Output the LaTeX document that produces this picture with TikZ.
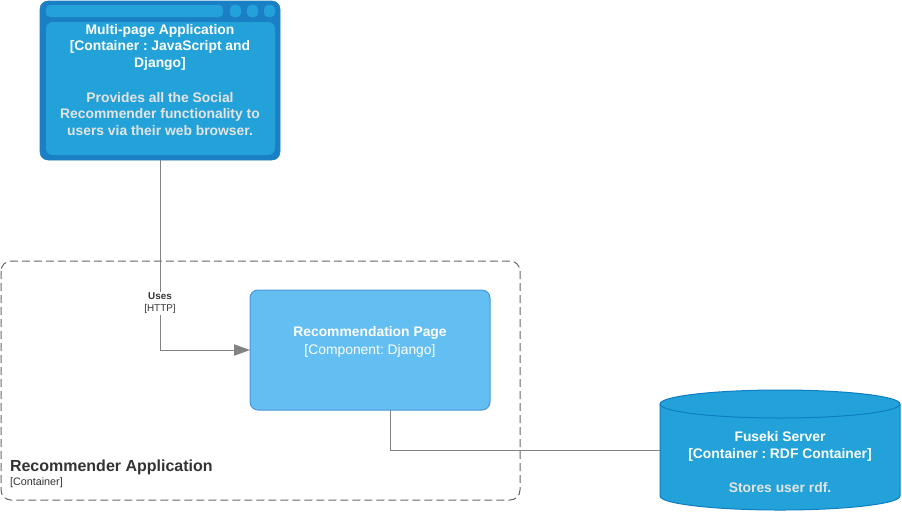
\documentclass[tikz,border=0pt]{standalone}
\usepackage{fontspec}
\setmainfont{Liberation Sans}
\usetikzlibrary{arrows.meta}
\frenchspacing
\definecolor{outerblue}{HTML}{1A7FC4}
\definecolor{innerblue}{HTML}{23A2D9}
\definecolor{compfill}{HTML}{63BEF2}
\definecolor{compline}{HTML}{4A95D6}
\definecolor{cylline}{HTML}{0E7DC2}
\definecolor{desc}{HTML}{E4E4E4}
\definecolor{conn}{HTML}{828282}
\definecolor{bound}{HTML}{666666}
\definecolor{labeltxt}{HTML}{333333}
\tikzset{
  every node/.style={inner sep=0pt, outer sep=0pt},
  ttl/.style={font=\bfseries\fontsize{10.4}{12.4}\selectfont, text=white, align=center},
  dsc/.style={font=\bfseries\fontsize{10.4}{12.4}\selectfont, text=desc, align=center},
  conline/.style={draw=conn, line width=0.75pt},
}
\begin{document}
\begin{tikzpicture}[x=0.75pt,y=-0.75pt]
\useasboundingbox (0,0) rectangle (902,512);
% boundary
\draw[bound, line width=0.75pt, dash pattern=on 6pt off 3pt, rounded corners=7.5pt] (1,261) rectangle (520,500);
\node[anchor=west, font=\bfseries\fontsize{12}{14}\selectfont, text=labeltxt] (blabel) at (10,467) {Recommender Application};
\node[anchor=west, font=\fontsize{8.1}{9}\selectfont, text=labeltxt] (bsub) at (10,483) {[Container]};
% multi-page app
\draw[outerblue, fill=outerblue, rounded corners=6pt] (40,1) rectangle (280,160);
\node[minimum width=180pt, minimum height=119.25pt] (mpa) at (160,80.5) {};
\fill[innerblue, rounded corners=3pt] (46,5) rectangle (223,17);
\fill[innerblue, rounded corners=3pt] (230,5) rectangle (241,17);
\fill[innerblue, rounded corners=3pt] (247,5) rectangle (258,17);
\fill[innerblue, rounded corners=3pt] (264,5) rectangle (275,17);
\fill[innerblue, rounded corners=5pt] (46,22) rectangle (275,155);
\node[ttl] (mpat) at (160,47) {Multi-page Application\\{}[Container : JavaScript and\\Django]};
\node[dsc] (mpad) at (160,114) {Provides all the Social\\Recommender functionality to\\users via their web browser.};
% component
\node[draw=compline, fill=compfill, line width=0.75pt, rounded corners=6pt, minimum width=180pt, minimum height=90pt] (rp) at (370,350) {};
\node[ttl] (rpt) at (370,333) {Recommendation Page};
\node[font=\fontsize{10.4}{12.4}\selectfont, text=white] (rps) at (370,351) {[Component: Django]};
% cylinder
\node[minimum width=180pt, minimum height=90pt] (fs) at (780,450) {};
\filldraw[fill=innerblue, draw=cylline, line width=0.75pt]
  (660,404) -- (660,496)
  .. controls (660,503.73) and (713.7,510) .. (780,510)
  .. controls (846.3,510) and (900,503.73) .. (900,496)
  -- (900,404)
  .. controls (900,396.27) and (846.3,390) .. (780,390)
  .. controls (713.7,390) and (660,396.27) .. (660,404) -- cycle;
\draw[draw=cylline, line width=0.75pt]
  (660,404) .. controls (660,411.73) and (713.7,418) .. (780,418)
  .. controls (846.3,418) and (900,411.73) .. (900,404);
\node[ttl] (fst) at (780,446.5) {Fuseki Server\\{}[Container : RDF Container]};
\node[dsc] (fsd) at (780,488) {Stores user rdf.};
% connectors
\coordinate (bend1) at (160,350);
\draw[conline, -{Triangle[width=8.5pt,length=12pt]}] (mpa.south) -- (bend1) -- (rp.west);
\node[fill=white, inner sep=1pt, align=center, text=labeltxt, font=\fontsize{7.4}{9}\selectfont] (lbl) at (160,303.5) {\textbf{Uses}\\{}[HTTP]};
\coordinate (bend2) at (390,450);
\draw[conline] (rp.south -| bend2) -- (bend2) -- (fs.west);
\end{tikzpicture}
\end{document}
